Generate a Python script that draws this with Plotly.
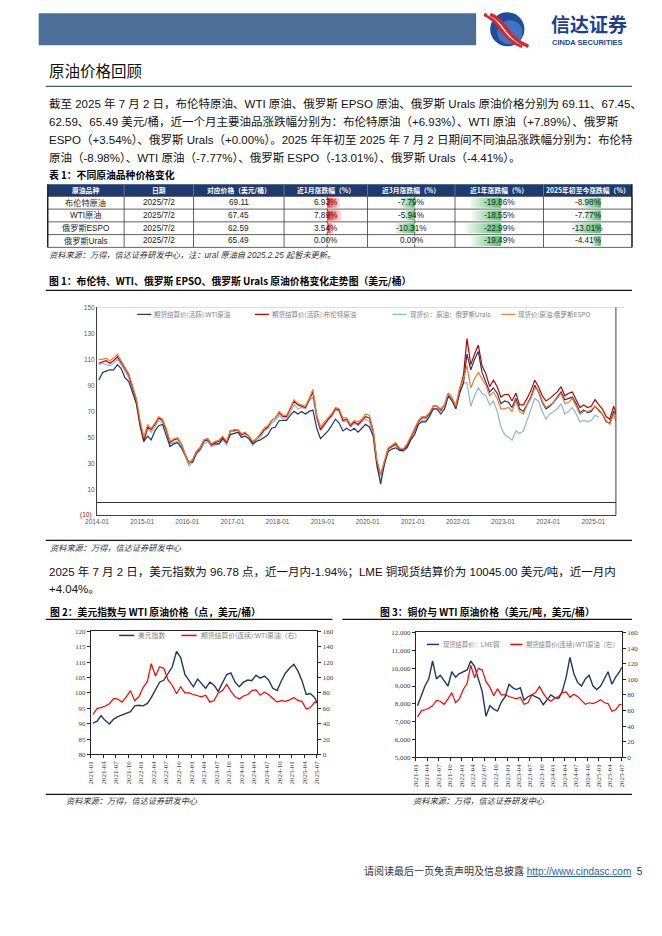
import pandas as pd
import plotly.graph_objects as go

W, H = 662, 936
LEFT, RIGHT = 45, 628


def X(px):
    return (1.0305 * px - 20.0) / W


def Y(py):
    return 1 - (1.0088 * py - 13.8) / H


BODY = "Liberation Sans, Noto Sans CJK SC, sans-serif"
CJK = "Noto Sans CJK SC, Liberation Sans, sans-serif"
SERIF = "Liberation Serif, Noto Sans CJK SC, serif"

# ---------------- data: figure 1 (monthly, USD/bbl) ----------------
main_dates = list(pd.date_range("2014-01-01", "2025-06-01", freq="MS") + pd.Timedelta(days=14)) + [pd.Timestamp("2025-07-02")]

brent = [107, 108, 109, 107, 109, 112, 108, 103, 98, 88, 79, 62,
         48, 58, 56, 60, 65, 63, 56, 46, 48, 49, 45, 37,
         30, 33, 39, 42, 48, 49, 44, 46, 47, 50, 46, 55,
         55, 56, 52, 53, 51, 46, 49, 52, 56, 58, 63, 65,
         69, 66, 66, 72, 78, 75, 74, 73, 79, 85, 66, 56,
         60, 64, 67, 72, 71, 63, 64, 59, 62, 60, 63, 66,
         65, 55, 32, 21, 31, 41, 43, 45, 41, 40, 44, 50,
         55, 62, 65, 65, 68, 74, 74, 71, 75, 84, 80, 74,
         87, 98, 126, 106, 114, 121, 105, 99, 89, 94, 89, 81,
         83, 83, 78, 84, 75, 75, 80, 86, 94, 89, 82, 78,
         80, 83, 85, 89, 82, 84, 85, 79, 73, 75, 73, 74,
         79, 75, 72, 66, 64, 74, 69.11]

wti = [94, 100, 101, 102, 102, 106, 103, 96, 93, 84, 76, 59,
       47, 51, 48, 55, 59, 60, 51, 43, 45, 46, 42, 37,
       31, 31, 38, 41, 47, 48, 45, 45, 45, 49, 46, 52,
       53, 54, 50, 51, 49, 45, 47, 48, 50, 52, 57, 58,
       63, 63, 63, 67, 70, 68, 70, 68, 70, 71, 57, 49,
       52, 55, 59, 64, 61, 55, 57, 55, 57, 54, 57, 60,
       58, 51, 30, 14, 29, 39, 41, 42, 40, 40, 42, 48,
       52, 60, 62, 62, 66, 72, 72, 68, 72, 82, 78, 72,
       84, 92, 114, 102, 110, 116, 100, 92, 85, 88, 84, 76,
       78, 77, 73, 80, 72, 70, 76, 81, 90, 85, 77, 72,
       74, 77, 81, 85, 79, 80, 81, 76, 69, 71, 69, 70,
       74, 71, 68, 62, 61, 70, 67.45]

urals = [106, 107, 106, 105, 107, 110, 106, 101, 96, 86, 77, 60,
         46, 57, 54, 58, 63, 61, 55, 45, 46, 47, 43, 35,
         28, 31, 37, 40, 45, 47, 43, 44, 45, 48, 44, 53,
         53, 54, 50, 51, 49, 44, 47, 50, 55, 57, 61, 63,
         67, 64, 64, 70, 75, 72, 73, 72, 78, 81, 64, 55,
         59, 64, 66, 71, 70, 62, 63, 58, 61, 59, 62, 64,
         62, 52, 27, 17, 30, 41, 43, 44, 40, 39, 43, 49,
         54, 60, 63, 63, 66, 72, 72, 70, 72, 82, 78, 72,
         85, 92, 92, 74, 82, 88, 84, 82, 75, 78, 70, 58,
         52, 50, 48, 55, 53, 55, 63, 72, 80, 78, 70, 64,
         68, 70, 72, 76, 68, 70, 73, 68, 62, 63, 62, 63,
         67, 65.49]

espo = [110, 110, 111, 109, 111, 114, 109, 104, 99, 90, 80, 63,
        50, 60, 57, 61, 66, 64, 57, 47, 49, 50, 45, 37,
        30, 33, 39, 42, 48, 49, 45, 47, 48, 51, 47, 55,
        56, 56, 53, 54, 51, 47, 49, 53, 57, 59, 63, 65,
        70, 67, 67, 73, 79, 76, 75, 74, 80, 87, 67, 58,
        62, 65, 68, 73, 72, 65, 65, 60, 63, 62, 64, 68,
        67, 56, 33, 21, 32, 42, 44, 46, 42, 41, 45, 51,
        56, 63, 66, 66, 69, 74, 74, 72, 75, 84, 80, 74,
        88, 95, 105, 88, 95, 100, 95, 90, 82, 85, 80, 72,
        72, 73, 70, 78, 70, 68, 75, 80, 88, 86, 78, 73,
        75, 77, 80, 84, 76, 77, 80, 74, 68, 70, 70, 71,
        74, 70, 68, 63, 60, 68, 62.59]

main_names = ["期货结算价(活跃):WTI原油", "期货结算价(活跃):布伦特原油",
              "现货价：原油：俄罗斯Urals", "现货价:原油:俄罗斯ESPO"]
main_years = list(range(2014, 2026))

# ---------------- data: figures 2 & 3 (monthly) ----------------
sub_dates = list(pd.date_range("2021-01-01", "2025-06-01", freq="MS") + pd.Timedelta(days=14)) + [pd.Timestamp("2025-07-02")]

dxy = [90.2, 90.8, 92.6, 91.0, 89.9, 91.5, 92.3, 92.8, 93.5, 93.9, 95.8, 96.0,
       95.8, 96.6, 98.5, 101.0, 103.5, 104.2, 106.5, 108.5, 113.5, 111.5, 106.0, 104.0,
       102.0, 104.5, 103.0, 101.5, 103.5, 102.5, 100.5, 103.5, 106.0, 106.5, 103.5, 102.0,
       103.5, 104.2, 104.0, 105.8, 104.8, 105.5, 104.2, 101.5, 100.8, 103.8, 106.5, 108.0,
       109.3, 107.0, 104.0, 99.5, 99.8, 98.5, 96.78]

wti_cont = [52, 60, 61, 63, 66, 73, 72, 68, 75, 83, 70, 75,
            87, 95, 118, 102, 114, 112, 97, 90, 79, 88, 80, 80,
            78, 76, 75, 77, 68, 70, 80, 83, 91, 82, 75, 72,
            76, 78, 83, 84, 77, 81, 78, 73, 68, 70, 69, 71,
            74, 70, 69, 59, 61, 68, 67.45]

copper = [7900, 8500, 9000, 9400, 10400, 9400, 9600, 9300, 9000, 9800, 9500, 9700,
          9800, 9900, 10400, 10100, 9400, 8700, 7300, 7900, 7700, 7600, 8100, 8400,
          9100, 8900, 8800, 8900, 8200, 8400, 8500, 8400, 8300, 7950, 8200, 8500,
          8350, 8300, 8700, 9500, 10600, 9700, 9200, 9000, 9400, 9600, 9000, 8800,
          9000, 9400, 9800, 9100, 9500, 9800, 10045]

sub_ticks = list(pd.date_range("2021-01-01", "2025-07-01", freq="3MS"))

# ---------------- data: table 1 ----------------
tbl_header = ["原油品种", "日期", "对应价格（美元/桶）", "近1月涨跌幅（%）",
              "近3月涨跌幅（%）", "近1年涨跌幅（%）", "2025年初至今涨跌幅（%）"]
tbl_names = ["布伦特原油", "WTI原油", "俄罗斯ESPO", "俄罗斯Urals"]
tbl_dates = ["2025/7/2", "2025/7/2", "2025/7/2", "2025/7/2"]
tbl_price = [69.11, 67.45, 62.59, 65.49]
chg_1m = [6.93, 7.89, 3.54, 0.00]
chg_3m = [-7.79, -5.94, -10.31, 0.00]
chg_1y = [-19.86, -18.55, -22.99, -19.49]
chg_ytd = [-8.98, -7.77, -13.01, -4.41]

# ---------------- figure ----------------
fig = go.Figure()
shapes, annos = [], []


def line(x0, y0, x1, y1, color, w=1, dash="solid"):
    shapes.append(dict(type="line", xref="paper", yref="paper", x0=X(x0), y0=Y(y0),
                       x1=X(x1), y1=Y(y1), line=dict(color=color, width=w, dash=dash)))


def rect(x0, y0, x1, y1, fill):
    shapes.append(dict(type="rect", xref="paper", yref="paper", x0=X(x0), y0=Y(y1),
                       x1=X(x1), y1=Y(y0), fillcolor=fill, line=dict(width=0), layer="below"))


def text(x, y, s, size, color="#000000", anchor="left", family=BODY):
    annos.append(dict(xref="paper", yref="paper", x=X(x), y=Y(y), text=s, showarrow=False,
                      xanchor=anchor, yanchor="middle", font=dict(size=size, color=color, family=family)))


# header
rect(38, 15, 473, 47, "#4B6F98")
shapes.append(dict(type="circle", xref="paper", yref="paper", x0=X(487), x1=X(521), y0=Y(48), y1=Y(14),
                   fillcolor="#1F4C9C", line=dict(width=0)))
shapes.append(dict(type="circle", xref="paper", yref="paper", x0=X(494), x1=X(519), y0=Y(46), y1=Y(22),
                   fillcolor="#3F75C2", line=dict(width=0)))
for off, col, wd in [(-3, "#D7262C", 3.5), (0, "#FFFFFF", 1.5), (3, "#D7262C", 3.5)]:
    shapes.append(dict(type="path", xref="paper", yref="paper",
                       path=f"M {X(484 + off)},{Y(16)} C {X(500 + off)},{Y(22)} {X(500 + off)},{Y(40)} {X(522 + off)},{Y(48)}",
                       line=dict(color=col, width=wd)))
text(545, 25, "<b>信达证券</b>", 19, "#1B3F8F", family=CJK)
text(546, 44, "<b>CINDA SECURITIES</b>", 7.5, "#1B3F8F", family=BODY)

# section title
text(46, 72, "原油价格回顾", 15.5, "#111111", family=CJK)
line(LEFT, 88, RIGHT, 88, "#4A5968", 1.2)

para = ["截至 2025 年 7 月 2 日，布伦特原油、WTI 原油、俄罗斯 EPSO 原油、俄罗斯 Urals 原油价格分别为 69.11、67.45、",
        "62.59、65.49 美元/桶，近一个月主要油品涨跌幅分别为：布伦特原油（+6.93%）、WTI 原油（+7.89%）、俄罗斯",
        "ESPO（+3.54%）、俄罗斯 Urals（+0.00%）。2025 年年初至 2025 年 7 月 2 日期间不同油品涨跌幅分别为：布伦特",
        "原油（-8.98%）、WTI 原油（-7.77%）、俄罗斯 ESPO（-13.01%）、俄罗斯 Urals（-4.41%）。"]
for k, s in enumerate(para):
    text(46, 105 + 18 * k, s, 11.5, "#111111")

# ---------------- table ----------------
text(46, 177, "<b>表 1：不同原油品种价格变化</b>", 9.8, "#000000", family=CJK)
cols = [47, 123, 192, 282, 365, 452, 540, RIGHT]
head_top, head_bot = 186, 198
row_h = 12.75
rows_top = [head_bot + row_h * i for i in range(5)]
rect(cols[0], head_top, cols[-1], head_bot, "#1F3A6E")
for c in range(7):
    text((cols[c] + cols[c + 1]) / 2, (head_top + head_bot) / 2, "<b>" + tbl_header[c] + "</b>", 6.8, "#FFFFFF", "center", CJK)
for cx in cols[1:-1]:
    line(cx, head_top, cx, head_bot, "#8A9BBB", 0.6)

bar_cols = [(chg_1m, "x4", [-22.6, 21.1]), (chg_3m, "x5", [-24.2, 20.6]),
            (chg_1y, "x6", [-29.3, 26.8]), (chg_ytd, "x7", [-24.8, 13.5])]
for vals, ax, rng in bar_cols:
    for i, v in enumerate(vals):
        if v == 0:
            continue
        if v > 0:
            cs = [[0, "#FF2A2A"], [1, "#FFF4F4"]]
        else:
            cs = [[0, "#F4FBF6"], [1, "#4FBE6E"]]
        fig.add_trace(go.Scatter(x=[0, v, v, 0], y=[i + 0.1, i + 0.1, i + 0.9, i + 0.9],
                                 fill="toself", mode="lines", line=dict(width=0),
                                 fillgradient=dict(type="horizontal", colorscale=cs),
                                 xaxis=ax, yaxis="y8", showlegend=False, hoverinfo="skip"))
for ax in ["x4", "x5"]:
    shapes.append(dict(type="line", xref=ax, yref="y8", x0=0, x1=0, y0=0, y1=4,
                       line=dict(color="#333333", width=0.8, dash="dot")))

for i in range(4):
    yc = rows_top[i] + row_h / 2
    cells = [tbl_names[i], tbl_dates[i], f"{tbl_price[i]:.2f}", f"{chg_1m[i]:.2f}%",
             f"{chg_3m[i]:.2f}%", f"{chg_1y[i]:.2f}%", f"{chg_ytd[i]:.2f}%"]
    for c in range(7):
        text((cols[c] + cols[c + 1]) / 2, yc, cells[c], 8.2, "#222222", "center", BODY)
for yy in rows_top:
    line(cols[0], yy, cols[-1], yy, "#3A3A3A", 0.8)
for cx in cols:
    line(cx, rows_top[0], cx, rows_top[-1], "#3A3A3A", 0.8)
line(cols[0], head_top, cols[0], rows_top[-1], "#111111", 1.2)
line(cols[-1], head_top, cols[-1], rows_top[-1], "#111111", 1.2)
text(46, 257, "<i>资料来源：万得，信达证券研发中心，注：ural 原油自 2025.2.25 起暂未更新。</i>", 8.2, "#333333")

# ---------------- figure 1 ----------------
text(46, 283, "<b>图 1：布伦特、WTI、俄罗斯 EPSO、俄罗斯 Urals 原油价格变化走势图（美元/桶）</b>", 9.8, "#000000", family=CJK)
line(LEFT, 292, RIGHT, 292, "#111111", 1.2)

main_colors = {"wti": "#1F3864", "brent": "#C00000", "urals": "#8DB4E2", "espo": "#ED7D31"}
draw = [("urals", urals, main_names[2]), ("wti", wti, main_names[0]),
        ("brent", brent, main_names[1]), ("espo", espo, main_names[3])]
for key, vals, nm in draw:
    fig.add_trace(go.Scatter(x=main_dates[:len(vals)], y=vals, mode="lines", name=nm,
                             line=dict(color=main_colors[key], width=1.2), showlegend=False,
                             xaxis="x", yaxis="y"))

p1_l, p1_r, p1_t, p1_b = 96, 612, 309, 517
line(p1_l, p1_t, 620, p1_t, "#D0D0D0", 0.8)
line(p1_r, p1_t, p1_r, p1_b, "#404040", 1)
text(93, p1_b, "(10)", 6.5, "#C00000", "right")
leg_x = [136, 253, 390, 498]
leg_keys = ["wti", "brent", "urals", "espo"]
for k in range(4):
    line(leg_x[k], 316, leg_x[k] + 14, 316, main_colors[leg_keys[k]], 1.2)
    text(leg_x[k] + 15, 316, main_names[k], 6.5, "#7F7F7F", "left", CJK)

line(LEFT, 542, RIGHT, 542, "#111111", 1.2)
text(47, 550, "<i>资料来源：万得，信达证券研发中心</i>", 8.2, "#333333")

# paragraph 2
text(46, 573, "2025 年 7 月 2 日，美元指数为 96.78 点，近一月内-1.94%；LME 铜现货结算价为 10045.00 美元/吨，近一月内", 11.5, "#111111")
text(46, 591, "+4.04%。", 11.5, "#111111")

# ---------------- figure 2 ----------------
text(47, 614, "<b>图 2：美元指数与 WTI 原油价格（点，美元/桶）</b>", 9.8, "#000000", family=CJK)
line(LEFT, 621, 330, 621, "#111111", 1.2)
fig.add_trace(go.Scatter(x=sub_dates, y=dxy, mode="lines", name="美元指数",
                         line=dict(color="#1F3864", width=1.4), showlegend=False, xaxis="x2", yaxis="y2"))
fig.add_trace(go.Scatter(x=sub_dates, y=wti_cont, mode="lines", name="期货结算价(连续):WTI原油（右）",
                         line=dict(color="#FF0000", width=1.2), showlegend=False, xaxis="x2", yaxis="y3"))
line(118, 637, 133, 637, "#1F3864", 1.5)
text(135, 637, "美元指数", 6.8, "#7F7F7F", "left", CJK)
line(180, 637, 195, 637, "#FF0000", 1.5)
text(197, 637, "期货结算价(连续):WTI原油（右）", 6.8, "#7F7F7F", "left", CJK)

# ---------------- figure 3 ----------------
text(375, 614, "<b>图 3：铜价与 WTI 原油价格（美元/吨，美元/桶）</b>", 9.8, "#000000", family=CJK)
line(340, 621, RIGHT, 621, "#111111", 1.2)
fig.add_trace(go.Scatter(x=sub_dates, y=copper, mode="lines", name="现货结算价：LME铜",
                         line=dict(color="#1F3864", width=1.4), showlegend=False, xaxis="x3", yaxis="y4"))
fig.add_trace(go.Scatter(x=sub_dates, y=wti_cont, mode="lines", name="期货结算价(连续):WTI原油（右）",
                         line=dict(color="#FF0000", width=1.2), showlegend=False, xaxis="x3", yaxis="y5"))
line(424, 646, 436, 646, "#1F3864", 1.5)
text(438, 646, "现货结算价：LME铜", 6.3, "#7F7F7F", "left", CJK)
line(507, 646, 519, 646, "#FF0000", 1.5)
text(521, 646, "期货结算价(连续):WTI原油（右）", 6.3, "#7F7F7F", "left", CJK)

line(LEFT, 796, RIGHT, 796, "#111111", 1.2)
text(63, 803, "<i>资料来源：万得，信达证券研发中心</i>", 8.2, "#333333")
text(408, 803, "<i>资料来源：万得，信达证券研发中心</i>", 8.2, "#333333")

# footer
text(641, 873, "请阅读最后一页免责声明及信息披露 <span style='color:#2E5FA8'><u>http://www.cindasc.com</u></span>  5",
     10, "#333333", "right", BODY)

# ---------------- axes ----------------
ax_line = "#262626"
sub_tick_font = dict(size=7, color="#404040", family=SERIF)
layout_axes = dict(
    xaxis=dict(domain=[X(p1_l), X(p1_r)], anchor="y", range=["2014-01-01", "2025-07-03"],
               tickvals=[pd.Timestamp(f"{yr}-01-01") for yr in main_years],
               ticktext=[f"{yr}-01" for yr in main_years], tickangle=0,
               tickfont=dict(size=6.5, color="#595959", family=BODY),
               showgrid=False, showline=True, linecolor="#404040", linewidth=1, ticks="", zeroline=False),
    yaxis=dict(domain=[Y(p1_b), Y(p1_t)], anchor="x", range=[-10, 150],
               tickvals=list(range(10, 151, 20)), tickfont=dict(size=6.5, color="#595959", family=BODY),
               showgrid=False, showline=True, linecolor="#404040", linewidth=1,
               zeroline=True, zerolinecolor="#303030", zerolinewidth=1.2, ticks=""),
    xaxis2=dict(domain=[X(90), X(315)], anchor="y2", range=["2021-01-01", "2025-07-04"],
                tickvals=sub_ticks, ticktext=[d.strftime("%Y-%m") for d in sub_ticks], tickangle=-90,
                tickfont=sub_tick_font, showgrid=False, showline=True, mirror=True,
                linecolor=ax_line, linewidth=1, ticks="outside", ticklen=3, tickcolor=ax_line),
    yaxis2=dict(domain=[Y(756), Y(633)], anchor="x2", range=[80, 120], dtick=5,
                tickfont=sub_tick_font, showgrid=False, showline=True, linecolor=ax_line, linewidth=1,
                ticks="outside", ticklen=3, tickcolor=ax_line, zeroline=False),
    yaxis3=dict(overlaying="y2", anchor="x2", side="right", range=[0, 160], dtick=20,
                tickfont=sub_tick_font, showgrid=False, showline=True, linecolor=ax_line, linewidth=1,
                ticks="outside", ticklen=3, tickcolor=ax_line, zeroline=False),
    xaxis3=dict(domain=[X(413), X(618)], anchor="y4", range=["2021-01-01", "2025-07-04"],
                tickvals=sub_ticks, ticktext=[d.strftime("%Y-%m") for d in sub_ticks], tickangle=-90,
                tickfont=sub_tick_font, showgrid=False, showline=True, mirror=True,
                linecolor=ax_line, linewidth=1, ticks="outside", ticklen=3, tickcolor=ax_line),
    yaxis4=dict(domain=[Y(759), Y(634)], anchor="x3", range=[5000, 12000], dtick=1000, tickformat=",d",
                tickfont=sub_tick_font, showgrid=False, showline=True, linecolor=ax_line, linewidth=1,
                ticks="outside", ticklen=3, tickcolor=ax_line, zeroline=False),
    yaxis5=dict(overlaying="y4", anchor="x3", side="right", range=[0, 160], dtick=20,
                tickfont=sub_tick_font, showgrid=False, showline=True, linecolor=ax_line, linewidth=1,
                ticks="outside", ticklen=3, tickcolor=ax_line, zeroline=False),
    yaxis8=dict(domain=[Y(rows_top[-1]), Y(rows_top[0])], anchor="x4", range=[4, 0], visible=False, fixedrange=True),
)
for k, (vals, ax, rng) in enumerate(bar_cols):
    c0, c1 = cols[3 + k], cols[4 + k]
    layout_axes["xaxis" + ax[1:]] = dict(domain=[X(c0), X(c1)], anchor="y8", range=rng, visible=False)

fig.update_layout(
    width=W, height=H, margin=dict(l=0, r=0, t=0, b=0),
    paper_bgcolor="#FFFFFF", plot_bgcolor="rgba(0,0,0,0)",
    showlegend=False, shapes=shapes, annotations=annos,
    font=dict(family=BODY), **layout_axes,
)

fig.write_html("out.html")
